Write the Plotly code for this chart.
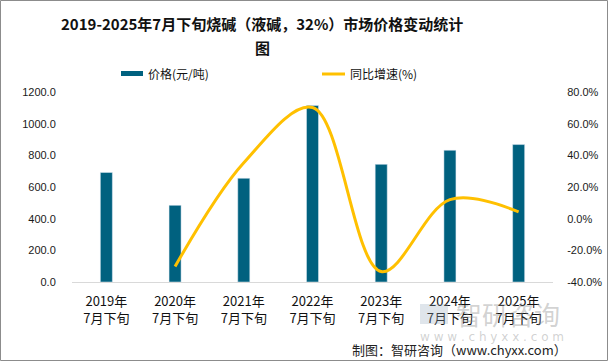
import plotly.graph_objects as go

categories = ["2019年<br>7月下旬", "2020年<br>7月下旬", "2021年<br>7月下旬", "2022年<br>7月下旬",
              "2023年<br>7月下旬", "2024年<br>7月下旬", "2025年<br>7月下旬"]
price = [692, 484, 655, 1115, 743, 832, 868]
yoy = [None, -30.2, 35.3, 70.2, -33.4, 12.0, 4.3]

left_ticks = [0, 200, 400, 600, 800, 1000, 1200]
right_ticks = [-40, -20, 0, 20, 40, 60, 80]
right_labels = ["%.1f%%" % v for v in right_ticks]

W, H = 609, 363
ML, MR, MT, MB = 72, 56, 92, 81
PW, PH = W - ML - MR, H - MT - MB

def px(x):
    return (x - ML) / PW

def py(y):
    return (H - MB - y) / PH

BAR = "#00617F"
LINE = "#FFC000"
FONT = "Noto Sans CJK SC, DejaVu Sans, sans-serif"
NUMFONT = "Liberation Sans, Arial, sans-serif"

fig = go.Figure()
fig.add_trace(go.Bar(x=categories, y=price, marker_color=BAR, width=0.175,
                     name="价格(元/吨)", yaxis="y"))
fig.add_trace(go.Scatter(x=categories, y=yoy, mode="lines", yaxis="y2",
                         line=dict(color=LINE, width=3, shape="spline", smoothing=1.0),
                         name="同比增速(%)"))

fig.update_layout(
    width=W, height=H,
    margin=dict(l=ML, r=MR, t=MT, b=MB, autoexpand=False),
    paper_bgcolor="white", plot_bgcolor="white",
    showlegend=False,
    font=dict(family=FONT, color="#222222", size=11),
    xaxis=dict(showgrid=False, showline=True, linecolor="#d9d9d9", linewidth=1, automargin=False,
               ticks="outside", ticklen=7, tickcolor="rgba(0,0,0,0)",
               tickfont=dict(size=13, color="#111111"), zeroline=False),
    yaxis=dict(range=[0, 1200], tickvals=left_ticks, tickformat=".1f", automargin=False,
               showgrid=False, zeroline=False, showline=False,
               ticks="outside", ticklen=13, tickcolor="rgba(0,0,0,0)",
               tickfont=dict(size=11, family=NUMFONT, color="#1a1a1a")),
    yaxis2=dict(range=[-40, 80], tickvals=right_ticks, ticktext=right_labels, automargin=False,
                overlaying="y", side="right", showgrid=False, zeroline=False,
                showline=False, ticks="outside", ticklen=11, tickcolor="rgba(0,0,0,0)",
                tickfont=dict(size=11, family=NUMFONT, color="#1a1a1a")),
)

annotations = [
    dict(text="<b>2019-2025年7月下旬烧碱（液碱，32%）市场价格变动统计</b>", x=px(262), y=py(23),
         xref="paper", yref="paper", showarrow=False, xanchor="center", yanchor="middle",
         font=dict(size=15, color="#111111", family=FONT)),
    dict(text="<b>图</b>", x=px(262), y=py(48),
         xref="paper", yref="paper", showarrow=False, xanchor="center", yanchor="middle",
         font=dict(size=15, color="#111111", family=FONT)),
    dict(text="价格(元/吨)", x=px(146), y=py(74), xref="paper", yref="paper", showarrow=False,
         xanchor="left", yanchor="middle", font=dict(size=12, color="#111111", family=FONT)),
    dict(text="同比增速(%)", x=px(348), y=py(74), xref="paper", yref="paper", showarrow=False,
         xanchor="left", yanchor="middle", font=dict(size=12, color="#111111", family=FONT)),
    dict(text="智研咨询", x=px(508), y=py(313), xref="paper", yref="paper", showarrow=False,
         xanchor="center", yanchor="middle", font=dict(size=26, color="rgba(140,140,140,0.4)", family=FONT)),
    dict(text="w w w . c h y x x . c o m", x=px(492), y=py(337), xref="paper", yref="paper", showarrow=False,
         xanchor="center", yanchor="middle", font=dict(size=12, color="rgba(140,140,140,0.4)", family="DejaVu Sans")),
    dict(text="制图：智研咨询（www.chyxx.com）", x=px(569), y=py(349), xref="paper", yref="paper",
         showarrow=False, xanchor="right", yanchor="middle",
         font=dict(size=13, color="#222222", family=FONT)),
]
fig.update_layout(annotations=annotations)

shapes = [
    dict(type="rect", xref="paper", yref="paper", x0=px(121), x1=px(143), y0=py(71), y1=py(76),
         fillcolor=BAR, line=dict(width=0)),
    dict(type="line", xref="paper", yref="paper", x0=px(322), x1=px(345), y0=py(74), y1=py(74),
         line=dict(color=LINE, width=3)),
    dict(type="rect", xref="paper", yref="paper", x0=px(420), x1=px(448), y0=py(304), y1=py(324),
         fillcolor="rgba(150,170,190,0.3)", line=dict(width=0)),
    dict(type="rect", xref="paper", yref="paper", x0=px(0.5), x1=px(607.5), y0=py(0.5), y1=py(360.5),
         fillcolor="rgba(0,0,0,0)", line=dict(color="#8c8c8c", width=1)),
]
fig.update_layout(shapes=shapes)

fig.write_html("out.html", config={"displayModeBar": False},
               post_script="document.body.style.margin='0';document.body.style.overflow='hidden';")
